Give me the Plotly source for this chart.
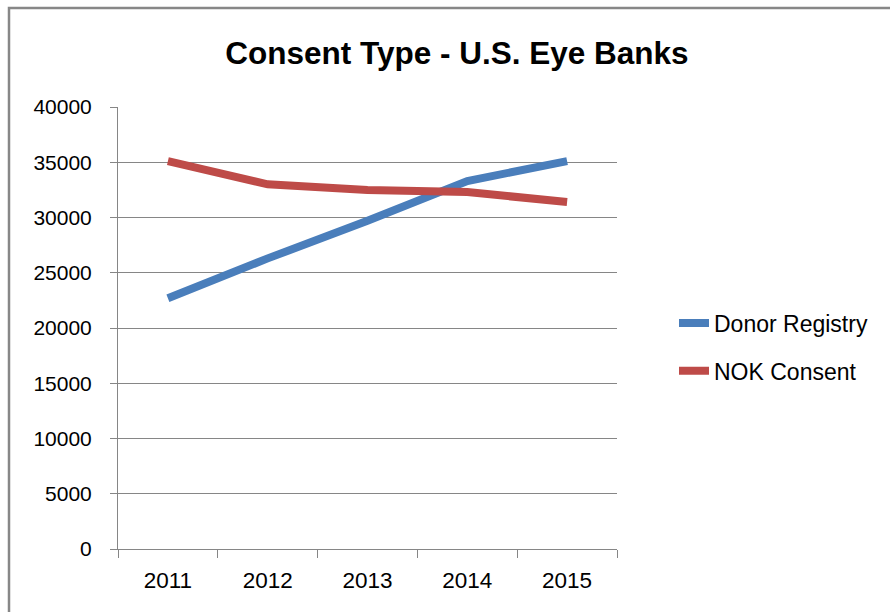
import plotly.graph_objects as go

# Consent counts per year
years = ["2011", "2012", "2013", "2014", "2015"]
donor_registry = [22700, 26300, 29700, 33300, 35100]
nok_consent = [35100, 33000, 32500, 32300, 31400]
y_ticks = [0, 5000, 10000, 15000, 20000, 25000, 30000, 35000, 40000]

W, H = 890, 612
L, R, T, B = 118, 273, 107, 63
plot_w = W - L - R
plot_h = H - T - B

font_family = "Liberation Sans, Arial, sans-serif"

fig = go.Figure()
fig.add_trace(go.Scatter(
    x=years, y=donor_registry, mode="lines", name="Donor Registry",
    legendgroup="a",
    line=dict(color="#4A7EBB", width=8),
))
fig.add_trace(go.Scatter(
    x=years, y=nok_consent, mode="lines", name="NOK Consent",
    legendgroup="b",
    line=dict(color="#BE4B48", width=8),
))

# Outer chart frame
fig.add_shape(
    type="rect", xref="paper", yref="paper", layer="below",
    x0=(9 - L) / plot_w, x1=(W + 20 - L) / plot_w,
    y0=-(B + 20) / plot_h, y1=(H - B - 8) / plot_h,
    line=dict(color="#878787", width=2.5), fillcolor="rgba(0,0,0,0)",
)

fig.update_layout(
    width=W, height=H,
    margin=dict(l=L, r=R, t=T, b=B),
    paper_bgcolor="white", plot_bgcolor="white",
    font=dict(family=font_family, color="#000000", size=21),
    title=dict(
        text="<b>Consent Type - U.S. Eye Banks</b>",
        x=457 / W, xanchor="center",
        y=1 - 53 / H, yanchor="middle",
        font=dict(family=font_family, size=31.5, color="#000000"),
    ),
    showlegend=True,
    legend=dict(
        x=(674 - L) / plot_w, xanchor="left",
        y=(H - B - 347) / plot_h, yanchor="middle",
        font=dict(family=font_family, size=23, color="#000000"),
        bgcolor="rgba(0,0,0,0)", tracegroupgap=15,
        traceorder="grouped",
        itemwidth=30,
    ),
    xaxis=dict(
        type="category", categoryorder="array", categoryarray=years,
        range=[-0.5, 4.5],
        tickson="boundaries", ticks="outside", ticklen=8,
        tickcolor="#868686", tickwidth=1,
        showline=True, linecolor="#868686", linewidth=1,
        showgrid=False, zeroline=False,
        ticklabelstandoff=11,
        tickfont=dict(family=font_family, size=22.5),
    ),
    yaxis=dict(
        range=[0, 40000], tickvals=y_ticks,
        ticktext=[str(v) for v in y_ticks],
        ticks="outside", ticklen=7, tickcolor="#868686", tickwidth=1,
        showline=True, linecolor="#868686", linewidth=1,
        showgrid=True, gridcolor="#868686", gridwidth=1,
        zeroline=False,
        ticklabelstandoff=14,
        tickfont=dict(family=font_family, size=21),
    ),
)

fig.write_html("out.html")
